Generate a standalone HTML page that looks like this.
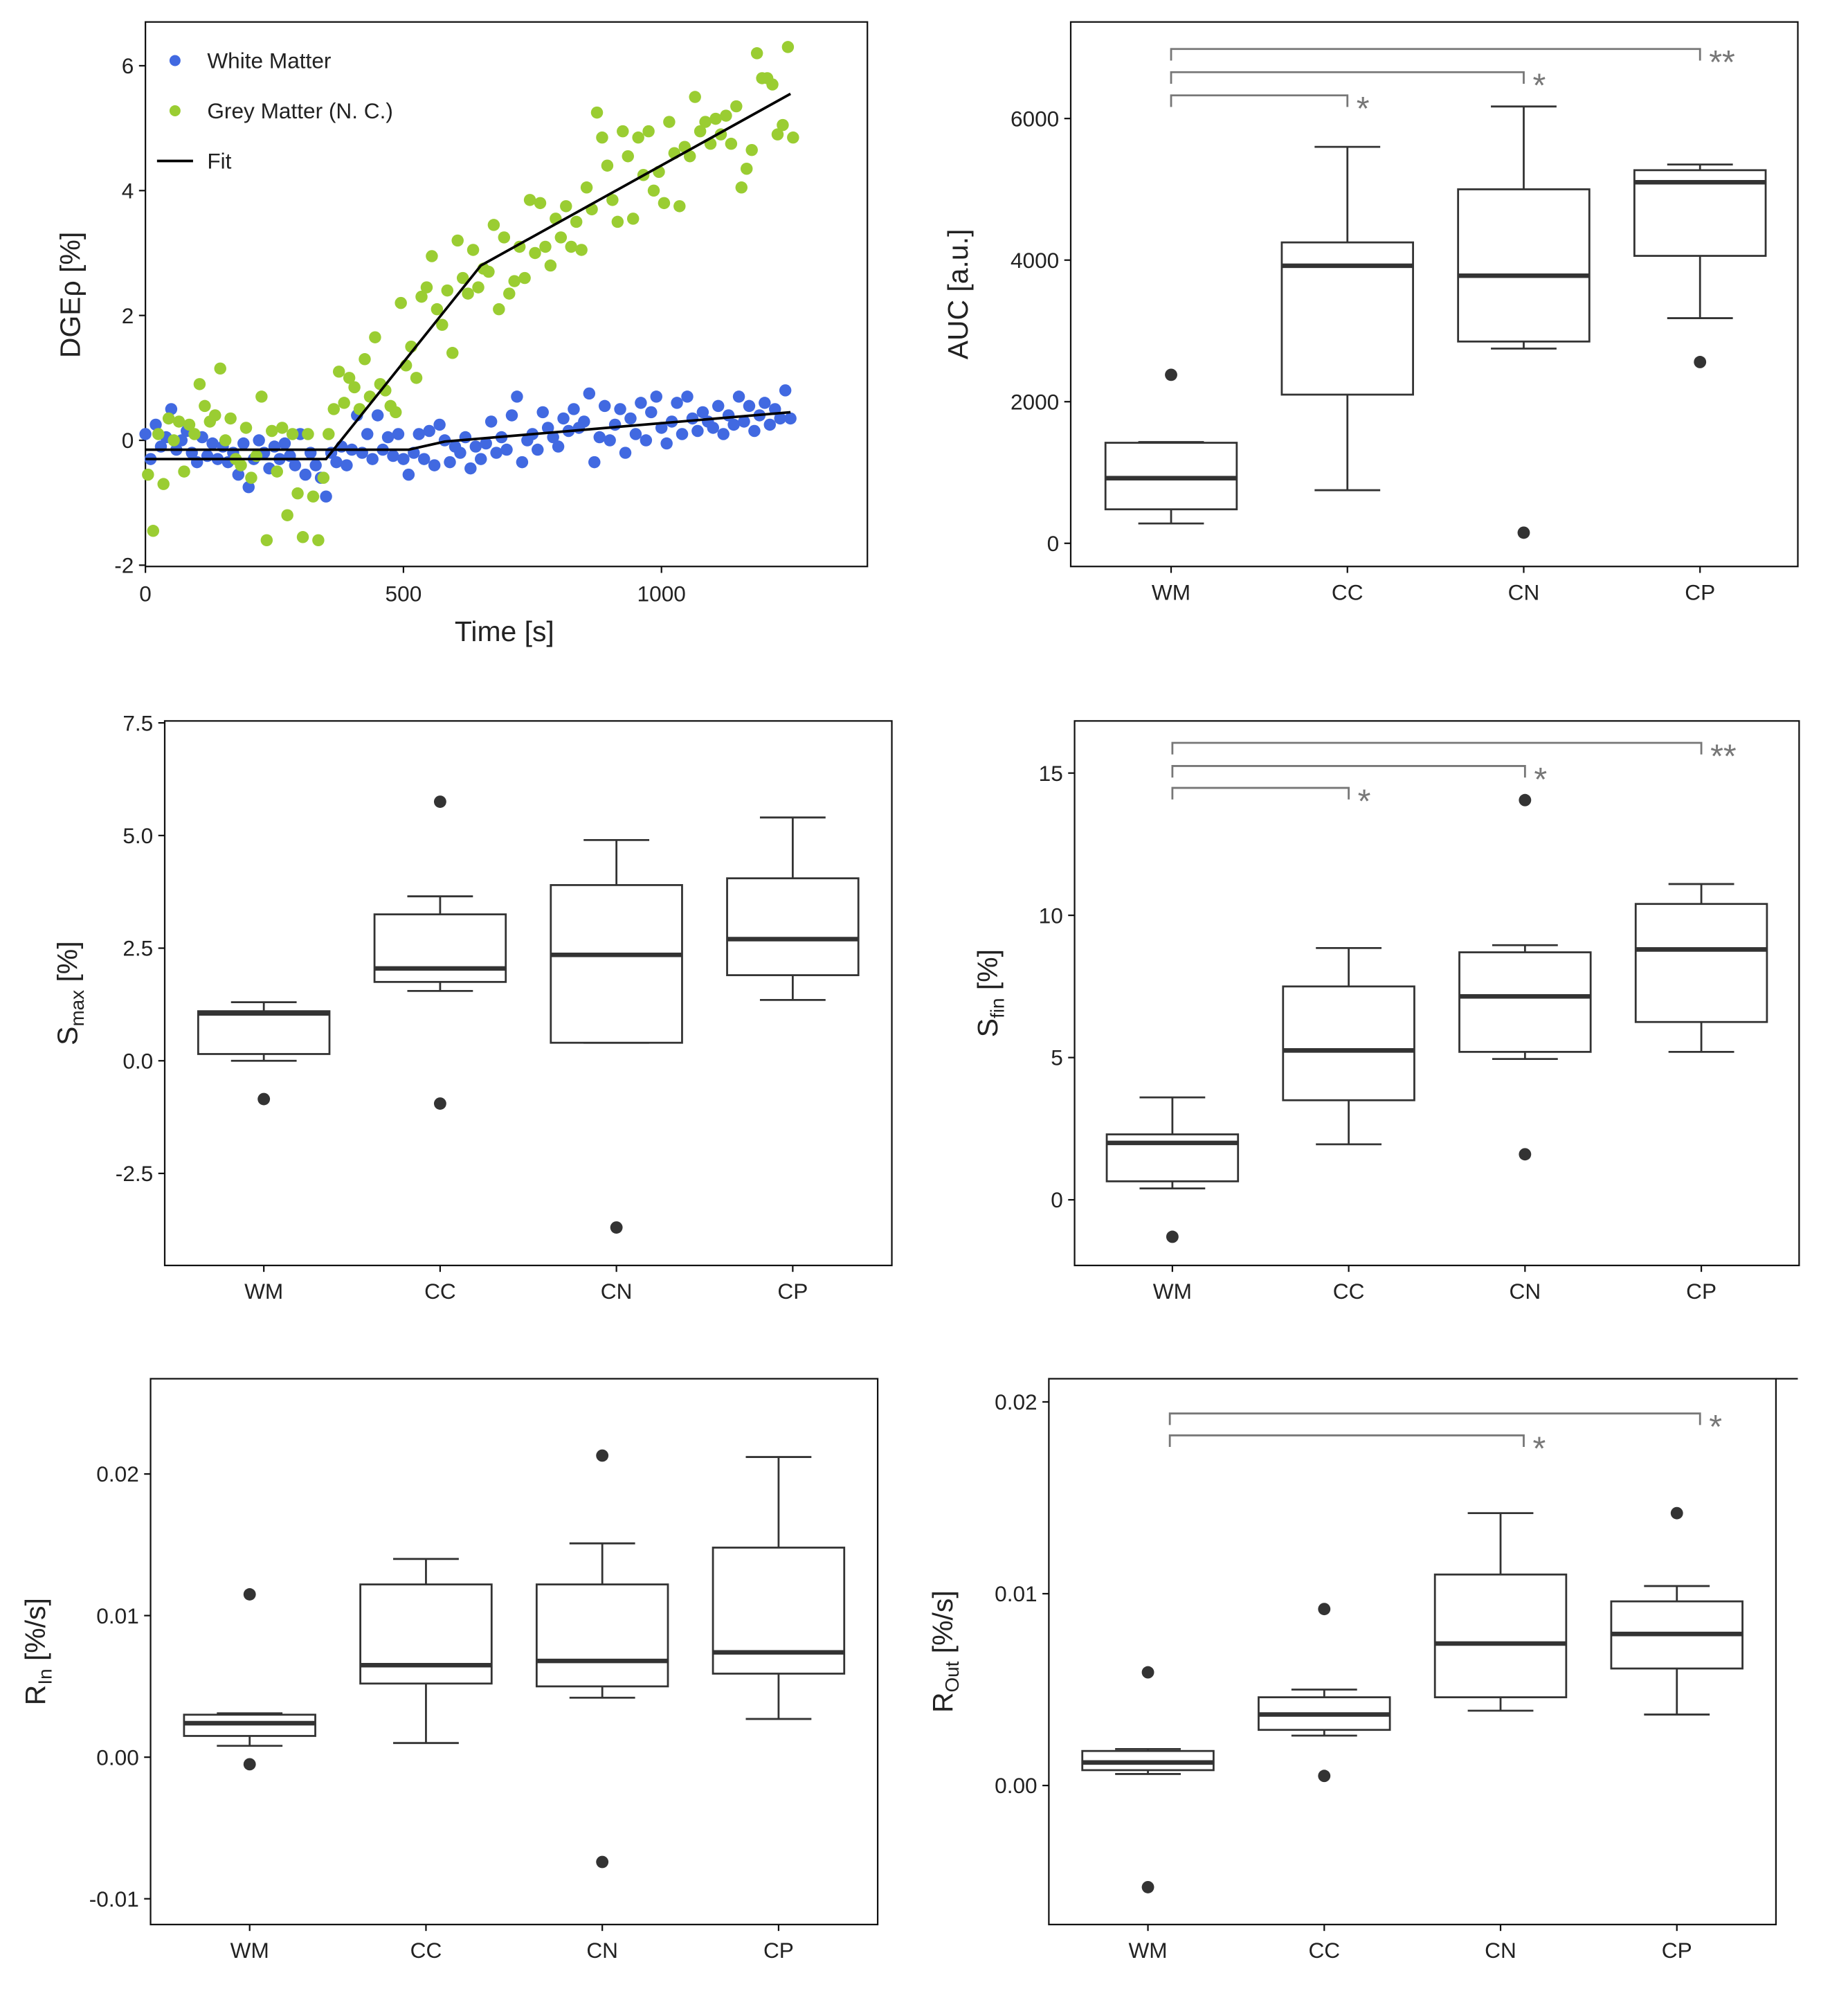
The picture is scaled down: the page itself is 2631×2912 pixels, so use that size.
<!DOCTYPE html>
<html><head><meta charset="utf-8"><style>
html,body{margin:0;padding:0;background:#fff}
svg{display:block}
text{font-family:"Liberation Sans",sans-serif;fill:#222}
</style></head><body>
<svg id="fig" width="2631" height="2912" viewBox="0 0 1415 1566" xmlns="http://www.w3.org/2000/svg"></svg>
<script>
// ---- Panel A scatter data (time in s, DGE in %) ----
const wmTimesStep = 10;
const wmValues = [0.1,-0.3,0.25,-0.1,0.05,0.5,-0.15,0.0,0.15,-0.2,-0.35,0.05,-0.25,-0.05,-0.3,-0.1,-0.35,-0.2,-0.55,-0.05,-0.75,-0.3,0.0,-0.2,-0.45,-0.1,-0.3,-0.05,-0.25,-0.4,0.1,-0.55,-0.2,-0.4,-0.6,-0.9,
-0.2,-0.35,-0.1,-0.4,-0.15,0.4,-0.2,0.1,-0.3,0.4,-0.15,0.05,-0.25,0.1,-0.3,
-0.55,-0.2,0.1,-0.3,0.15,-0.4,0.25,0.0,-0.35,-0.1,-0.2,0.05,-0.45,-0.1,-0.3,-0.05,0.3,-0.2,0.05,-0.15,0.4,0.7,-0.35,0.0,0.1,-0.15,0.45,0.2,0.05,-0.1,0.35,0.15,0.5,0.2,0.3,0.75,-0.35,0.05,0.55,0.0,0.25,0.5,-0.2,0.35,0.1,0.6,0.0,0.45,0.7,0.2,-0.05,0.3,0.6,0.1,0.7,0.35,0.15,0.45,0.3,0.2,0.55,0.1,0.4,0.25,0.7,0.3,0.55,0.15,0.4,0.6,0.25,0.5,0.35,0.8,0.35];
const gmValues = [-0.55,-1.45,0.1,-0.7,0.35,0.0,0.3,-0.5,0.25,0.1,0.9,0.55,0.3,0.4,1.15,0.0,0.35,-0.3,-0.4,0.2,-0.6,-0.25,0.7,-1.6,0.15,-0.5,0.2,-1.2,0.1,-0.85,-1.55,0.1,-0.9,-1.6,-0.6,0.1,
0.5,1.1,0.6,1.0,0.85,0.5,1.3,0.7,1.65,0.9,0.8,0.55,0.45,2.2,1.2,1.5,1.0,2.3,2.45,2.95,2.1,1.85,2.4,1.4,3.2,2.6,2.35,3.05,2.45,2.75,
2.7,3.45,2.1,3.25,2.35,2.55,3.1,2.6,3.85,3.0,3.8,3.1,2.8,3.55,3.25,3.75,3.1,3.5,3.05,4.05,3.7,5.25,4.85,4.4,3.85,3.5,4.95,4.55,3.55,4.85,4.25,4.95,4.0,4.3,3.8,5.1,4.6,3.75,4.7,4.55,5.5,4.95,5.1,4.75,5.15,4.9,5.2,4.75,5.35,4.05,4.35,4.65,6.2,5.8,5.8,5.7,4.9,5.05,6.3,4.85];
const wmFitT = [0,510,580,1250];
const wmFitV = [-0.15,-0.15,-0.02,0.45];
const gmFitT = [0,350,650,1250];
const gmFitV = [-0.3,-0.3,2.8,5.55];
const aXTicks = [0,500,1000];
const aYTicks = [-2,0,2,4,6];

// ---- Boxplot data: [low whisker, q1, median, q3, high whisker] ----
const groups = ["WM","CC","CN","CP"];
const aucStats = [[280,480,920,1420,1430],[750,2100,3920,4250,5600],[2750,2850,3780,5000,6170],[3180,4060,5100,5270,5350]];
const aucOut = [[2380],[],[150],[2560]];
const aucTicks = [0,2000,4000,6000];
const smaxStats = [[0,0.15,1.05,1.1,1.3],[1.55,1.75,2.05,3.25,3.65],[0.4,0.4,2.35,3.9,4.9],[1.35,1.9,2.7,4.05,5.4]];
const smaxOut = [[-0.85],[5.75,-0.95],[-3.7],[]];
const smaxTicks = [-2.5,0,2.5,5,7.5];
const sfinStats = [[0.4,0.65,2.0,2.3,3.6],[1.95,3.5,5.25,7.5,8.85],[4.95,5.2,7.15,8.7,8.95],[5.2,6.25,8.8,10.4,11.1]];
const sfinOut = [[-1.3],[],[14.05,1.6],[]];
const sfinTicks = [0,5,10,15];
const rinStats = [[0.0008,0.0015,0.0024,0.003,0.0031],[0.001,0.0052,0.0065,0.0122,0.014],[0.0042,0.005,0.0068,0.0122,0.0151],[0.0027,0.0059,0.0074,0.0148,0.0212]];
const rinOut = [[0.0115,-0.0005],[],[0.0213,-0.0074],[]];
const rinTicks = [-0.01,0,0.01,0.02];
const routStats = [[0.0006,0.0008,0.0012,0.0018,0.0019],[0.0026,0.0029,0.0037,0.0046,0.005],[0.0039,0.0046,0.0074,0.011,0.0142],[0.0037,0.0061,0.0079,0.0096,0.0104]];
const routOut = [[0.0059,-0.0053],[0.0092,0.0005],[],[0.0142]];
const routTicks = [0,0.01,0.02];

const NS="http://www.w3.org/2000/svg";
const svg=document.getElementById('fig');
function mk(tag,attrs,parent,txt){const e=document.createElementNS(NS,tag);for(const k in attrs)e.setAttribute(k,attrs[k]);if(txt!==undefined)e.textContent=txt;(parent||svg).appendChild(e);return e;}
function lin(d0,d1,r0,r1){return v=>r0+(v-d0)*(r1-r0)/(d1-d0);}

function frame(g,x0,y0,x1,y1){
  const r=mk('rect',{x:x0,y:y0,width:x1-x0,height:y1-y0,fill:'none',stroke:'#111','stroke-width':1.2},g);
  
}
function yAxis(g,x0,ticks,ys,fmt){
  ticks.forEach(t=>{
    const y=ys(t);
    const l=mk('line',{x1:x0-5,x2:x0,y1:y,y2:y,stroke:'#111','stroke-width':1.2},g);
    
    const tx=mk('text',{x:x0-9,y:y+6,'text-anchor':'end','font-size':17},g,fmt(t));
    
  });
}
function yTitle(g,x,y,main,sub){
  const t=mk('text',{transform:`translate(${x},${y}) rotate(-90)`,'text-anchor':'middle','font-size':22},g);
  
  const a=mk('tspan',{},t,main[0]);
  if(sub){mk('tspan',{'font-size':15,dy:5},t,sub);mk('tspan',{dy:-5},t,main.slice(1));}
  else a.textContent=main;
}

// ---- Panel A ----
(function(){
  const g=mk('g',{});
  const xs=lin(0,1000,113,514), ys=lin(0,6,342,51);
  frame(g,113,17,674,440);
  yAxis(g,113,aYTicks,ys,t=>String(t));
  aXTicks.forEach(t=>{
    const x=xs(t);
    const l=mk('line',{x1:x,x2:x,y1:440,y2:445,stroke:'#111','stroke-width':1.2},g);
    
    const tx=mk('text',{x:x,y:467,'text-anchor':'middle','font-size':17},g,String(t));
    
  });
  wmValues.forEach((v,i)=>{
    const c=mk('circle',{cx:xs(i*wmTimesStep),cy:ys(v),r:4.7,fill:'#4169e1'},g);
    
  });
  gmValues.forEach((v,i)=>{
    const c=mk('circle',{cx:xs(i*wmTimesStep+5),cy:ys(v),r:4.7,fill:'#9acd32'},g);
    
  });
  [[wmFitT,wmFitV,'wm-fit-line'],[gmFitT,gmFitV,'gm-fit-line']].forEach(([T,V,n])=>{
    const p=mk('polyline',{points:T.map((t,i)=>xs(t)+','+ys(V[i])).join(' '),fill:'none',stroke:'#000','stroke-width':2},g);
    
  });
  const lg=mk('g',{},g);
  let c=mk('circle',{cx:136,cy:47,r:4.3,fill:'#4169e1'},lg);
  let t=mk('text',{x:161,y:53,'font-size':17},lg,'White Matter');
  c=mk('circle',{cx:136,cy:86,r:4.3,fill:'#9acd32'},lg);
  t=mk('text',{x:161,y:92,'font-size':17},lg,'Grey Matter (N. C.)');
  const l=mk('line',{x1:122,x2:150,y1:125,y2:125,stroke:'#000','stroke-width':2},lg);
  t=mk('text',{x:161,y:131,'font-size':17},lg,'Fit');
  yTitle(g,62,229,'DGEρ [%]');
  t=mk('text',{x:392,y:498,'text-anchor':'middle','font-size':22},g,'Time [s]');
})();

function boxPanel(name,x0,y0,x1,y1,d0,p0,d1,p1,ticks,fmt,stats,outs,cats,title,sub,titleX,brackets,extraTop,bcats){
  const g=mk('g',{});
  const ys=lin(d0,d1,p0,p1);
  frame(g,x0,y0,x1,y1);
  if(extraTop){const l=mk('line',{x1:x1,x2:extraTop,y1:y0,y2:y0,stroke:'#111','stroke-width':1.2},g);}
  yAxis(g,x0,ticks,ys,fmt);
  const bw=51;
  groups.forEach((gname,i)=>{
    const cx=cats[i], s=stats[i];
    const bg=mk('g',{},g);
    mk('line',{x1:cx,x2:cx,y1:ys(s[0]),y2:ys(s[1]),stroke:'#333','stroke-width':1.5},bg);
    mk('line',{x1:cx,x2:cx,y1:ys(s[3]),y2:ys(s[4]),stroke:'#333','stroke-width':1.5},bg);
    mk('line',{x1:cx-bw/2,x2:cx+bw/2,y1:ys(s[0]),y2:ys(s[0]),stroke:'#333','stroke-width':1.5},bg);
    mk('line',{x1:cx-bw/2,x2:cx+bw/2,y1:ys(s[4]),y2:ys(s[4]),stroke:'#333','stroke-width':1.5},bg);
    mk('rect',{x:cx-bw,y:ys(s[3]),width:2*bw,height:ys(s[1])-ys(s[3]),fill:'#fff',stroke:'#333','stroke-width':1.5},bg);
    mk('line',{x1:cx-bw,x2:cx+bw,y1:ys(s[2]),y2:ys(s[2]),stroke:'#333','stroke-width':3.5},bg);
    outs[i].forEach(o=>{const c=mk('circle',{cx:cx,cy:ys(o),r:4.8,fill:'#333'},bg);});
    const l=mk('line',{x1:cx,x2:cx,y1:y1,y2:y1+5,stroke:'#111','stroke-width':1.2},g);
    const t=mk('text',{x:cx,y:y1+26,'text-anchor':'middle','font-size':17},g,gname);
  });
  const bc=bcats||cats;
  brackets.forEach(([to,yb,lab])=>{
    const xa=bc[0], xb=bc[to];
    const b=mk('polyline',{points:`${xa},${yb+9} ${xa},${yb} ${xb},${yb} ${xb},${yb+9}`,fill:'none',stroke:'#777','stroke-width':1.5},g);
    
    const t=mk('text',{x:xb+7,y:yb+19,'font-size':26,style:'fill:#777'},g,lab);
    
  });
  yTitle(g,titleX,(y0+y1)/2,title,sub);
}
const f0=t=>String(t);
const f1=t=>t.toFixed(1);
const f2=t=>t.toFixed(2);
boxPanel('auc-boxplot',832,17,1397,440,0,422,6000,92,aucTicks,f0,aucStats,aucOut,[910,1047,1184,1321],'AUC [a.u.]',null,752,[[1,74,'*'],[2,56,'*'],[3,38,'**']]);
boxPanel('smax-boxplot',128,560,693,983,0,824,5,649,smaxTicks,f1,smaxStats,smaxOut,[205,342,479,616],'S [%]','max',60,[]);
boxPanel('sfin-boxplot',835,560,1398,983,0,932,10,711,sfinTicks,f0,sfinStats,sfinOut,[911,1048,1185,1322],'S [%]','fin',775,[[1,612,'*'],[2,595,'*'],[3,577,'**']]);
boxPanel('rin-boxplot',117,1071,682,1495,0,1365,0.02,1145,rinTicks,f2,rinStats,rinOut,[194,331,468,605],'R [%/s]','In',35,[]);
boxPanel('rout-boxplot',815,1071,1380,1495,0,1387,0.02,1089,routTicks,f2,routStats,routOut,[892,1029,1166,1303],'R [%/s]','Out',740,[[2,1115,'*'],[3,1098,'*']],1397,[909,1047,1184,1321]);
</script>
</body></html>
